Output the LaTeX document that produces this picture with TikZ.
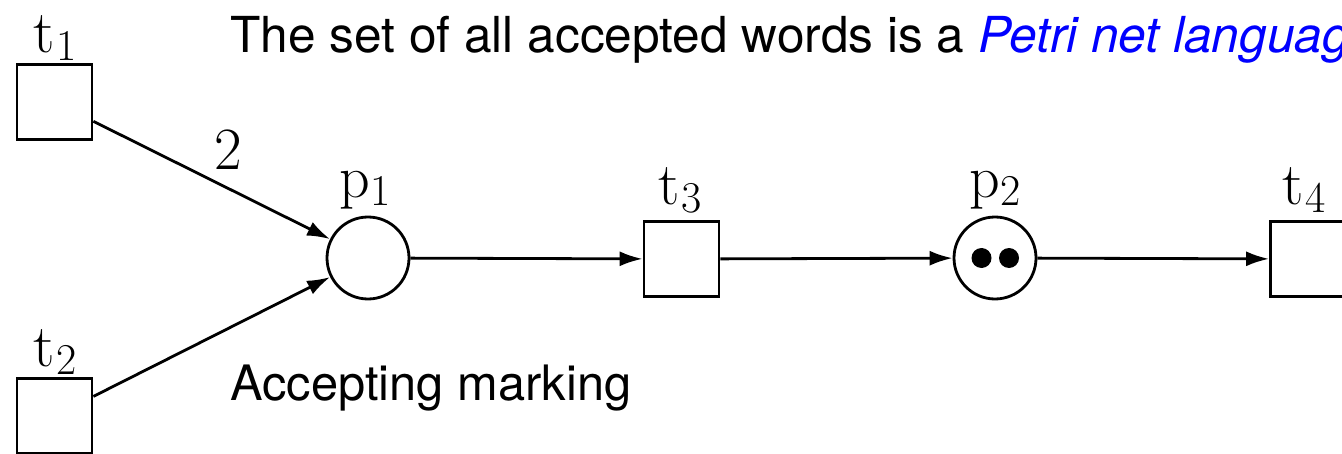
\documentclass[tikz,border=0pt]{standalone}
\usepackage[no-math]{fontspec}
\setsansfont{TeX Gyre Heros}
\usetikzlibrary{arrows.meta}
\newcommand{\lsub}[1]{\kern0.5pt\lower4pt\hbox{\fontsize{22}{22}\selectfont #1}}
\begin{document}
\begin{tikzpicture}[x=0.5pt,y=-0.5pt,
  trans/.style={draw, line width=1.4pt, minimum size=37.5pt, inner sep=0pt},
  place/.style={draw, circle, line width=1.4pt, minimum size=41pt, inner sep=0pt},
  token/.style={fill, circle, minimum size=10pt, inner sep=0pt},
  arc/.style={line width=1.4pt, -{Latex[length=11.5pt,width=7.5pt]}},
  lab/.style={font=\fontsize{30}{34}\selectfont, inner sep=0pt},
  txt/.style={font=\sffamily\fontsize{24.4}{29}\selectfont, inner sep=0pt, anchor=base west}]
\useasboundingbox (0,0) rectangle (1342,454);
\node[trans] (t1) at (54.5,102) {};
\node[trans] (t2) at (54.5,416) {};
\node[place] (p1) at (368,258) {};
\node[trans] (t3) at (681.5,259) {};
\node[place] (p2) at (995,258) {};
\node[token] (k1) at (981.5,258) {};
\node[token] (k2) at (1009,258) {};
\node[trans] (t4) at (1308,259) {};
\node[lab] (lt1) at (55,38) {t\lsub{1}};
\node[lab] (lt2) at (55,352) {t\lsub{2}};
\node[lab] (lp1) at (365,190) {p\lsub{1}};
\node[lab] (lt3) at (680,190) {t\lsub{3}};
\node[lab] (lp2) at (995,190) {p\lsub{2}};
\node[lab] (lt4) at (1304,190) {t\lsub{4}};
\node[lab] (w) at (228,150) {2};
\draw[arc] (t1) -- (p1);
\draw[arc] (t2) -- (p1);
\draw[arc] (p1) -- (t3);
\draw[arc] (t3) -- (p2);
\draw[arc] (p2) -- (t4);
\node[txt, font=\sffamily\fontsize{24.8}{29}\selectfont] (head) at (230,53) {The set of all accepted words is a \textcolor{blue}{\itshape Petri net language}};
\node[txt] (acc) at (230,400) {Accepting marking};
\end{tikzpicture}
\end{document}
